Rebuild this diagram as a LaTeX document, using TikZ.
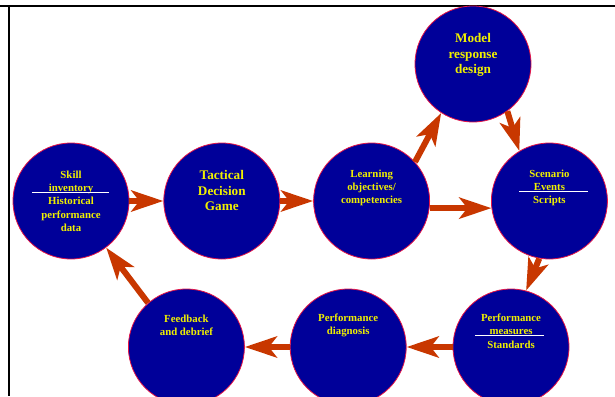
\documentclass[tikz,border=0pt]{standalone}
\usepackage{fontspec}
\setmainfont{Liberation Serif}
\usetikzlibrary{positioning,arrows.meta}

\definecolor{phaseblue}{RGB}{0,0,153}
\definecolor{phaseborder}{RGB}{230,20,70}
\definecolor{flowred}{RGB}{200,55,0}
\definecolor{labelyellow}{RGB}{240,240,0}

\begin{document}
\begin{tikzpicture}[x=1pt, y=-1pt,
            phase/.style={draw=phaseborder, line width=0.8pt, circle, fill=phaseblue, minimum size=116pt, inner sep=0pt},
            smalltext/.style={text=labelyellow, font=\bfseries\fontsize{10.8}{13.3}\selectfont, align=center, inner sep=0pt},
            bigtext/.style={text=labelyellow, font=\bfseries\fontsize{13.2}{15.2}\selectfont, align=center, inner sep=0pt},
            flow/.style={draw=flowred, line width=6pt, -{Stealth[length=32pt, width=21pt, inset=8pt]}},
            divider/.style={draw=white, line width=1pt},
            frame/.style={draw=black, line width=2pt}
        ]
        \clip (0,0) rectangle (615,396);

        % Rahmen
        \coordinate (topleft) at (0,6);
        \coordinate (topright) at (615,6);
        \coordinate (corner) at (8.5,6);
        \coordinate (bottom) at (8.5,396);
        \draw[frame] (topleft) -- (topright);
        \draw[frame] (corner) -- (bottom);

        % Knoten
        \node[phase] (skill) at (71,201) {};
        \node[phase, right=34pt of skill] (tdg) {};
        \node[phase, right=33pt of tdg] (learn) {};
        \node[phase] (model) at (473,64) {};
        \node[phase, right=61pt of learn] (scen) {};
        \node[phase] (meas) at (511,347) {};
        \node[phase, left=46pt of meas] (diag) {};
        \node[phase, left=45pt of diag] (fb) {};

        % Texte
        \node[smalltext, below=28pt of skill.north] (skilltext) {Skill\\inventory\\Historical\\performance\\data};
        \node[bigtext, below=28pt of tdg.north] (tdgtext) {Tactical\\Decision\\Game};
        \node[smalltext, below=27pt of learn.north] (learntext) {Learning\\objectives/\\competencies};
        \node[bigtext, below=28pt of model.north] (modeltext) {Model\\response\\design};
        \node[smalltext, below=27pt of scen.north] (scentext) {Scenario\\Events\\Scripts};
        \node[smalltext, below=25pt of meas.north] (meastext) {Performance\\measures\\Standards};
        \node[smalltext, below=25pt of diag.north] (diagtext) {Performance\\diagnosis};
        \node[smalltext, below=26pt of fb.north] (fbtext) {Feedback\\and debrief};

        % Trennlinien
        \draw[divider] ([xshift=-39pt, yshift=9pt]skill.center) -- ([xshift=38pt, yshift=9pt]skill.center);
        \draw[divider] ([xshift=-30pt, yshift=10pt]scen.center) -- ([xshift=39pt, yshift=10pt]scen.center);
        \draw[divider] ([xshift=-36pt, yshift=12pt]meas.center) -- ([xshift=33pt, yshift=12pt]meas.center);

        % Kanten zwischen Knoten
        \draw[flow] (skill) -- (tdg);
        \draw[flow] (tdg) -- (learn);
        \draw[flow] (learn.42) -- (model.237);
        \draw[flow] (learn.-7) -- (scen.187);
        \draw[flow] (model.-54) -- (scen.121);
        \draw[flow] (scen.-100) -- (meas.75);
        \draw[flow] (meas) -- (diag);
        \draw[flow] (diag) -- (fb);
        \draw[flow] (fb.131) -- (skill.-53);

    \end{tikzpicture}
\end{document}
